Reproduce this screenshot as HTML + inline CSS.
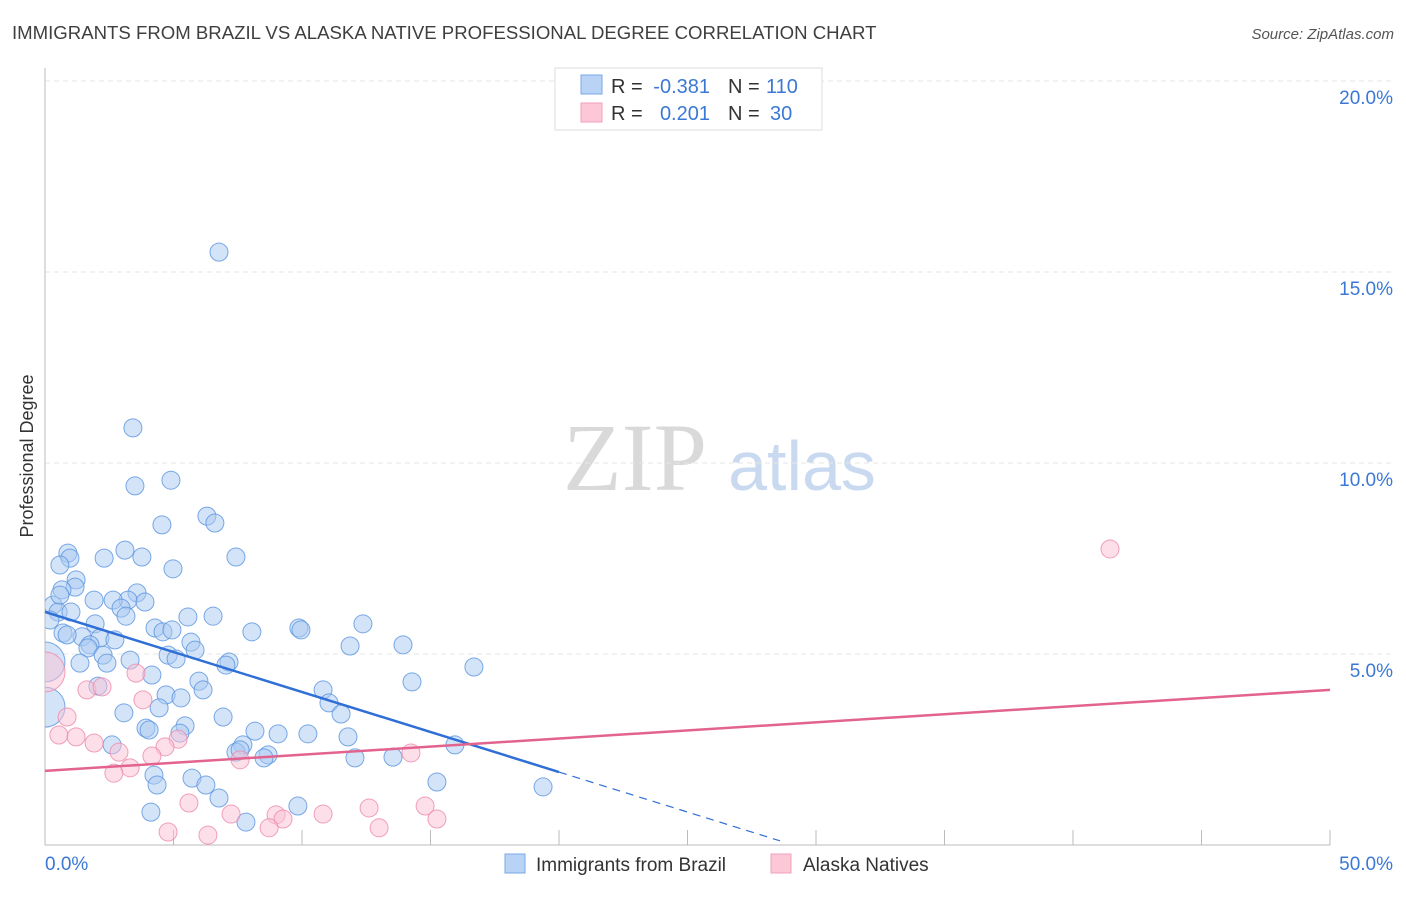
<!DOCTYPE html>
<html><head><meta charset="utf-8"><style>
body{margin:0;background:#fff;font-family:"Liberation Sans",sans-serif}
</style></head><body>
<svg width="1406" height="892" xmlns="http://www.w3.org/2000/svg" id="svg">
<defs><clipPath id="plot"><rect x="45" y="60" width="1360" height="800"/></clipPath></defs>
<text x="12" y="39" font-size="18.6" fill="#3f3f3f">IMMIGRANTS FROM BRAZIL VS ALASKA NATIVE PROFESSIONAL DEGREE CORRELATION CHART</text>
<text x="1394" y="39" font-size="15" fill="#555" font-style="italic" text-anchor="end">Source: ZipAtlas.com</text>
<text x="635" y="490" font-size="96" fill="#d9d9d9" font-family="Liberation Serif" text-anchor="middle">ZIP</text>
<text x="802" y="490" font-size="70" fill="#c9daf0" text-anchor="middle">atlas</text>
<g id="grid"></g><g id="pts" clip-path="url(#plot)"></g><g id="lines"></g>
<text transform="translate(33,456) rotate(-90)" font-size="18" fill="#333" text-anchor="middle">Professional Degree</text>
<g>
<rect x="555" y="68" width="267" height="62" fill="#fff" stroke="#ddd"/>
<rect x="581" y="75" width="21" height="19" fill="#b8d3f5" stroke="#7aa7e6"/>
<rect x="581" y="103" width="21" height="19" fill="#fcc8d8" stroke="#f1a0b9"/>
<text x="611" y="93" font-size="20" fill="#333">R =</text>
<text x="710" y="93" font-size="20" fill="#3b78d6" text-anchor="end">-0.381</text>
<text x="728" y="93" font-size="20" fill="#333">N =</text>
<text x="766" y="93" font-size="20" fill="#3b78d6">110</text>
<text x="611" y="120" font-size="20" fill="#333">R =</text>
<text x="710" y="120" font-size="20" fill="#3b78d6" text-anchor="end">0.201</text>
<text x="728" y="120" font-size="20" fill="#333">N =</text>
<text x="770" y="120" font-size="20" fill="#3b78d6">30</text>
</g>
<g>
<rect x="505" y="854" width="20" height="19" fill="#b8d3f5" stroke="#7aa7e6"/>
<text x="536" y="871" font-size="19" fill="#333">Immigrants from Brazil</text>
<rect x="771" y="854" width="20" height="19" fill="#fcc8d8" stroke="#f1a0b9"/>
<text x="803" y="871" font-size="19" fill="#333">Alaska Natives</text>
</g>
</svg>
<script>
const yTicks=[5,10,15,20];
const yTickLabels=["5.0%","10.0%","15.0%","20.0%"];
const xTickVals=[0,5,10,15,20,25,30,35,40,45,50];
const blueX=[6.77,3.42,3.50,4.90,6.30,6.61,4.55,7.43,0.89,0.97,2.30,3.11,3.77,4.98,0.58,1.21,1.17,0.66,3.58,3.23,3.89,1.91,2.65,0.31,0.51,1.01,2.96,3.15,5.56,6.54,0.19,1.95,0.70,1.44,2.14,2.72,4.28,4.59,4.94,8.05,9.88,9.96,12.37,11.87,13.93,1.75,1.67,5.68,5.84,4.79,5.10,2.26,2.41,3.31,7.16,7.04,1.36,16.69,14.28,2.06,4.16,4.71,5.29,5.99,6.15,10.82,11.05,11.52,4.44,3.07,6.93,3.93,4.05,5.45,5.25,8.17,9.07,10.23,11.79,7.70,7.43,8.68,8.52,7.59,2.61,15.95,12.06,13.54,4.24,4.36,5.72,6.26,6.77,15.25,19.38,4.12,7.82,9.84,0.58,0.86];
const blueY=[15.52,10.92,9.40,9.55,8.61,8.43,8.38,7.54,7.64,7.51,7.51,7.72,7.54,7.23,7.33,6.94,6.75,6.68,6.60,6.41,6.36,6.41,6.41,6.28,6.10,6.10,6.20,5.99,5.97,5.99,5.89,5.79,5.55,5.45,5.42,5.37,5.68,5.58,5.63,5.58,5.68,5.63,5.79,5.21,5.24,5.24,5.16,5.31,5.10,4.97,4.87,4.97,4.76,4.84,4.79,4.71,4.76,4.66,4.27,4.16,4.45,3.93,3.85,4.29,4.06,4.06,3.72,3.43,3.59,3.46,3.35,3.06,3.01,3.12,2.93,2.98,2.91,2.91,2.83,2.62,2.43,2.36,2.28,2.49,2.62,2.62,2.28,2.30,1.83,1.57,1.75,1.57,1.23,1.65,1.52,0.86,0.60,1.02,6.54,5.50];
const blueBigX=[0,0],blueBigY=[4.79,3.61];
const pinkX=[41.44,0.86,0.54,1.21,1.91,2.88,3.31,2.68,1.63,2.22,3.54,3.81,5.18,4.67,4.16,7.59,14.24,5.60,4.79,6.34,7.24,8.99,9.26,8.72,10.82,12.61,13.00,14.79,15.25];
const pinkY=[7.75,3.35,2.88,2.83,2.67,2.43,2.02,1.88,4.06,4.14,4.50,3.80,2.77,2.57,2.33,2.23,2.41,1.10,0.34,0.26,0.81,0.79,0.68,0.45,0.81,0.97,0.45,1.02,0.68];
const pinkBigX=[0],pinkBigY=[4.53];
const blueLine={x0:0,y0:6.10,x1:20,y1:1.91,xEnd:28.6};
const pinkLine={x0:0,y0:1.94,x1:50,y1:4.06};
const X=v=>45+v*25.7, Y=v=>845-v*38.2;
const NS="http://www.w3.org/2000/svg";
function mk(t,a,p){const e=document.createElementNS(NS,t);for(const k in a)e.setAttribute(k,a[k]);p.appendChild(e);return e;}
const g=document.getElementById('grid');
yTicks.forEach((t,i)=>{
 const l=mk('line',{x1:45,x2:1394,y1:Y(t),y2:Y(t),stroke:'#e6e6e6','stroke-dasharray':'5,4'},g);
 
 
 const tx=mk('text',{x:1393,y:Y(t)+23,'font-size':19,fill:'#3b78d6','text-anchor':'end'},g);
 tx.textContent=yTickLabels[i];
 
 
});
mk('line',{x1:45,x2:45,y1:68,y2:845,stroke:'#bbb'},g);
mk('line',{x1:45,x2:1330,y1:845,y2:845,stroke:'#bbb'},g);
xTickVals.forEach(v=>{const t=mk('line',{x1:X(v),x2:X(v),y1:830,y2:845,stroke:'#bbb'},g);
 
 });
const x0=mk('text',{x:45,y:870,'font-size':19,fill:'#3b78d6'},g);x0.textContent='0.0%';


const x1=mk('text',{x:1393,y:870,'font-size':19,fill:'#3b78d6','text-anchor':'end'},g);x1.textContent='50.0%';


const pg=document.getElementById('pts');
function dots(xs,ys,r,fill,stroke,name){xs.forEach((v,i)=>{const c=mk('circle',{cx:X(v),cy:Y(ys[i]),r:r,fill:fill,'fill-opacity':0.5,stroke:stroke,'stroke-opacity':0.8,'stroke-width':1},pg);
 
 });}
dots(blueX,blueY,9,'#aac9f2','#5a93e0','brazil-point');
dots(blueBigX,blueBigY,20,'#aac9f2','#5a93e0','brazil-point');
dots(pinkX,pinkY,9,'#fbc0d3','#ec8aab','alaska-point');
dots(pinkBigX,pinkBigY,20,'#fbc0d3','#ec8aab','alaska-point');
const lg=document.getElementById('lines');
const bl=mk('line',{x1:X(blueLine.x0),y1:Y(blueLine.y0),x2:X(blueLine.x1),y2:Y(blueLine.y1),stroke:'#2f6fd6','stroke-width':2.5},lg);


const slope=(blueLine.y1-blueLine.y0)/(blueLine.x1-blueLine.x0);
const bd=mk('line',{x1:X(blueLine.x1),y1:Y(blueLine.y1),x2:X(blueLine.xEnd),y2:Y(blueLine.y0+slope*blueLine.xEnd),stroke:'#2f6fd6','stroke-width':1.2,'stroke-dasharray':'8,6'},lg);


const pl=mk('line',{x1:X(pinkLine.x0),y1:Y(pinkLine.y0),x2:X(pinkLine.x1),y2:Y(pinkLine.y1),stroke:'#e3638f','stroke-width':2.5},lg);


</script>
</body></html>
